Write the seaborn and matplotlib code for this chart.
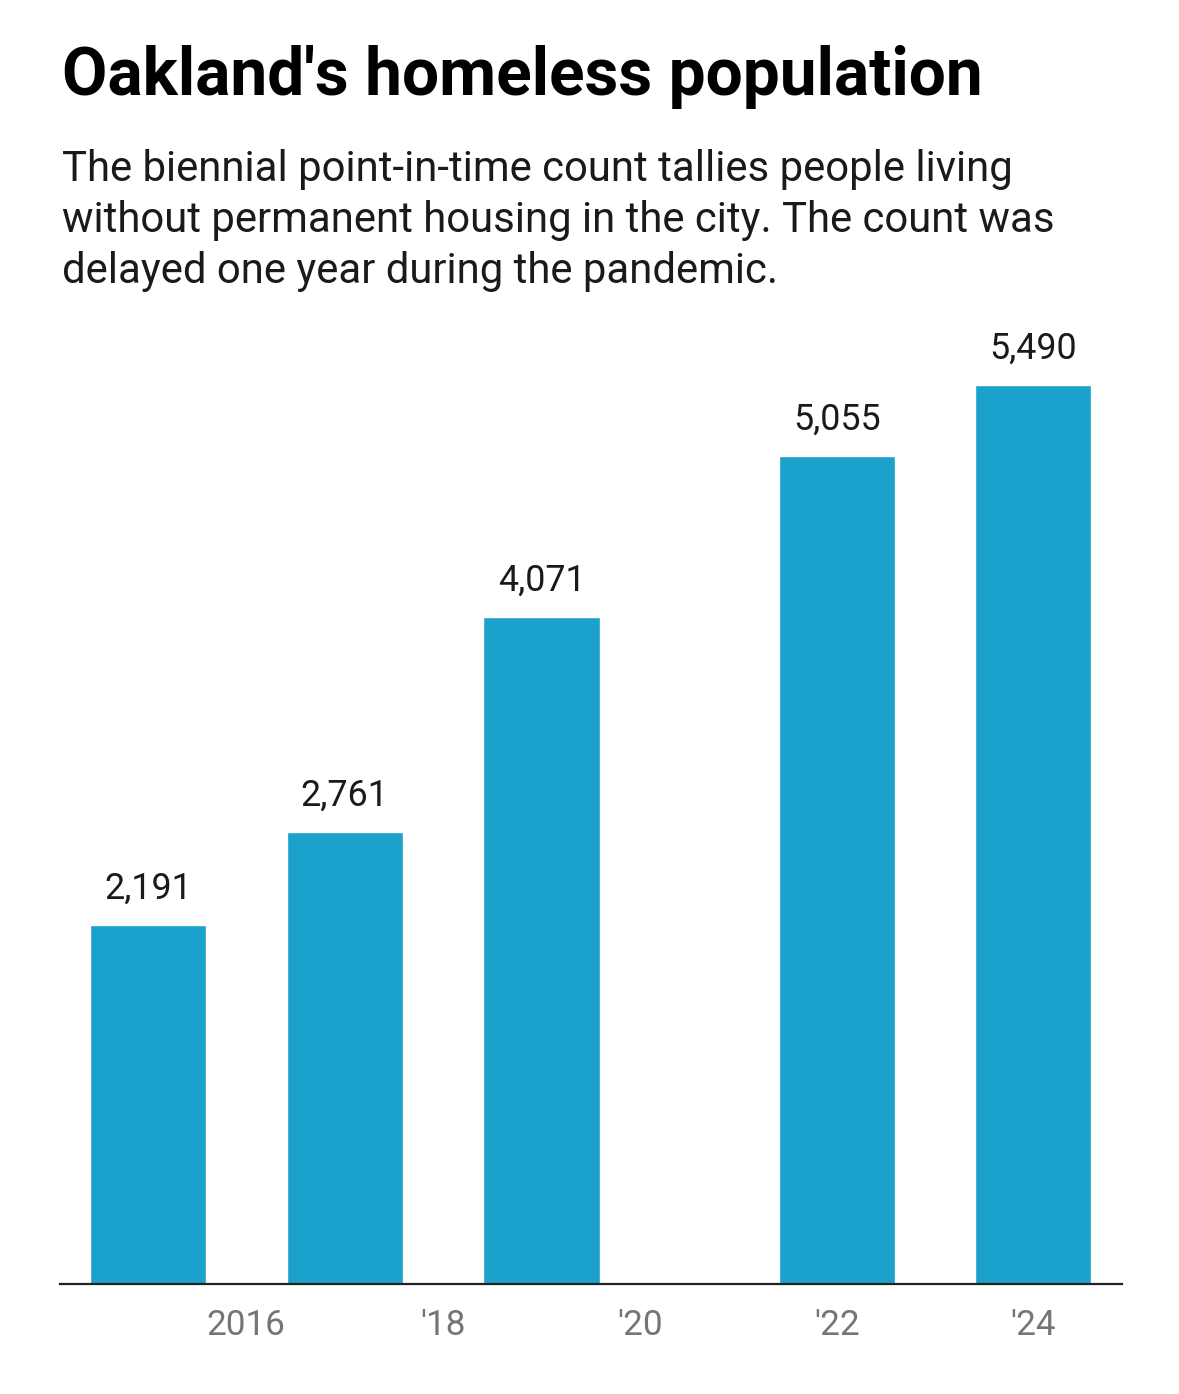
import matplotlib
matplotlib.use("Agg")
import matplotlib.pyplot as plt
import seaborn as sns
import pandas as pd

# data
years = [2015, 2017, 2019, 2022, 2024]
counts = [2191, 2761, 4071, 5055, 5490]
tick_years = [2016, 2018, 2020, 2022, 2024]
tick_labels = ["2016", "'18", "'20", "'22", "'24"]

title = "Oakland's homeless population"
subtitle_lines = [
    "The biennial point-in-time count tallies people living",
    "without permanent housing in the city. The count was",
    "delayed one year during the pandemic.",
]

df = pd.DataFrame({"year": years, "count": counts})

sns.set_style("white")
plt.rcParams["font.family"] = ["Roboto", "DejaVu Sans"]

W, H = 1179, 1394
fig = plt.figure(figsize=(W / 100, H / 100), dpi=100)
ax = fig.add_axes([60 / W, 110 / H, 1062 / W, 983 / H])

sns.barplot(data=df, x="year", y="count", native_scale=True, width=0.59,
            color="#1aa1cc", saturation=1, ax=ax)

ax.set_xlim(2014.107, 2024.9)
ax.set_ylim(0, 6000)

for yr, c in zip(years, counts):
    ax.annotate(f"{c:,}", (yr, c), xytext=(0, 18.7), textcoords="offset points",
                ha="center", va="baseline", fontsize=25.8, color="#1a1a1a")

ax.set_xticks(tick_years)
ax.set_xticklabels(tick_labels)
ax.tick_params(axis="x", length=0, pad=18, labelsize=25.3, labelcolor="#757575")
ax.set_yticks([])
ax.set_xlabel("")
ax.set_ylabel("")
for side in ["top", "left", "right"]:
    ax.spines[side].set_visible(False)
ax.spines["bottom"].set_color("#222222")
ax.spines["bottom"].set_linewidth(1.6)

fig.text(62 / W, 1 - 95 / H, title, fontsize=47.3, fontweight="bold",
         ha="left", va="baseline", color="#000000")
for i, line in enumerate(subtitle_lines):
    fig.text(62 / W, 1 - (181 + 51 * i) / H, line, fontsize=30.2,
             ha="left", va="baseline", color="#1a1a1a")

fig.savefig("out.png", dpi=100)
